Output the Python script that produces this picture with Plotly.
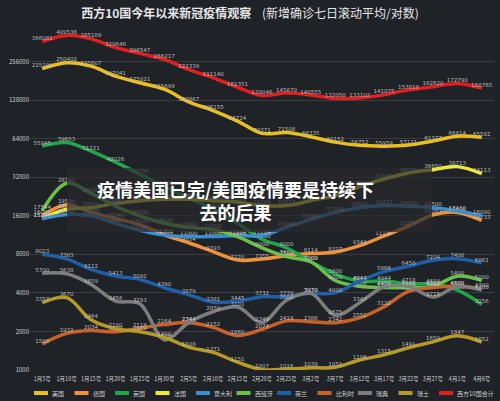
import plotly.graph_objects as go

dates = ["1月5号","1月10号","1月15号","1月20号","1月25号","1月30号","2月5号","2月10号","2月15号","2月20号",
         "2月25号","3月2号","3月7号","3月12号","3月17号","3月22号","3月27号","4月1号","4月6号"]

total = [366081,409536,385189,329646,296547,266217,222339,191140,161351,139046,145670,140555,132050,133102,141075,153818,162620,172790,158765]
usa = [225199,250402,235607,197041,175021,155699,123867,106155,87724,70371,71508,66335,60152,56752,55959,57121,61377,66814,65582]
uk = [55945,59653,51221,42026,33738,27000,22000,18000,14000,10500,9000,7000,5600,4944,4944,4718,4684,4200,3256]
france = [15200,18000,18500,19992,21000,21500,21500,21000,20500,19209,19217,21000,23000,27000,31000,34577,36650,38713,34113]
germany = [16000,19500,17000,15240,13620,11353,9854,8393,7220,7355,7801,8114,8327,9344,11131,13286,16263,17000,14733]
italy = [15174,16400,16000,14000,12300,11300,11000,11000,11224,11224,13000,15000,17000,18500,19217,19000,18500,17430,16000]
spain = [17544,28742,24000,19000,16000,14000,13000,12500,11000,9000,7680,7000,5000,4500,4400,4400,4500,5400,5000]
netherlands = [8023,7383,6112,5413,5092,4390,3879,3381,3445,3732,3739,3970,4000,4944,5866,6450,7204,7400,6861]
sweden = [5700,5638,4659,3456,3293,1720,2344,2850,3101,2349,3500,3970,2675,3347,4468,4500,3715,4489,4200]
belgium = [1598,1932,2034,1989,2118,2264,2344,2152,1860,2074,2418,2386,2342,2551,3122,4103,4400,4500,4300]
swiss = [3357,3670,2464,2100,1989,1800,1508,1371,1151,1007,1016,1039,1051,1196,1315,1491,1659,1847,1652]

series = [
    ("美国", usa, "#e8bf1f"),
    ("德国", germany, "#f0923a"),
    ("英国", uk, "#1fa64a"),
    ("法国", france, "#eeea34"),
    ("意大利", italy, "#3a8fd0"),
    ("西班牙", spain, "#6cc04a"),
    ("荷兰", netherlands, "#1f5fa8"),
    ("比利时", belgium, "#c8622a"),
    ("瑞典", sweden, "#7d7d7d"),
    ("瑞士", swiss, "#b59a24"),
    ("西方10国合计", total, "#e02020"),
]

W, H = 500, 401
fig = go.Figure()
shapes = [dict(type="rect", xref="paper", yref="paper", x0=(67-30)/464, x1=(432-30)/464,
               y0=(370-232)/347, y1=(370-168)/347, fillcolor="rgba(40,40,44,0.72)",
               line=dict(width=0), layer="above")]
annotations = [dict(text="<b>疫情美国已完/美国疫情要是持续下<br>去的后果</b>", xref="paper", yref="paper",
                    x=(235-30)/464, y=(370-200)/347, showarrow=False,
                    font=dict(size=18, color="white", family="Noto Sans CJK SC"), align="center")]

for i, (name, vals, col) in enumerate(series):
    fig.add_trace(go.Scatter(
        x=dates, y=vals, name=name, mode="lines+text", showlegend=False,
        line=dict(color=col, width=3.5, shape="spline", smoothing=1.0),
        text=[str(v) for v in vals], textposition="top center",
        textfont=dict(size=5.5, color="#bdbdbd", family="DejaVu Sans"),
        cliponaxis=False,
    ))
    lx = 34 + i * 40.5
    ly = 393
    shapes.append(dict(type="line", xref="paper", yref="paper",
                       x0=(lx - 30) / 464, x1=(lx + 14 - 30) / 464,
                       y0=(370 - ly) / 347, y1=(370 - ly) / 347,
                       line=dict(color=col, width=4)))
    annotations.append(dict(text=name, xref="paper", yref="paper", x=(lx + 16 - 30) / 464,
                            y=(370 - ly) / 347, xanchor="left", yanchor="middle", showarrow=False,
                            font=dict(size=6, color="#d0d0d0")))

ticks = [1000,2000,4000,8000,16000,32000,64000,128000,256000]
fig.update_layout(
    width=W, height=H,
    margin=dict(l=30, r=6, t=23, b=31),
    paper_bgcolor="#1f2227", plot_bgcolor="rgba(0,0,0,0)",
    font=dict(family="Noto Sans CJK SC", color="#d0d0d0"),
    showlegend=False,
    title=dict(text="<b>西方10国今年以来新冠疫情观察</b>    (新增确诊七日滚动平均/对数)",
               x=0.5, xanchor="center", y=0.965, yanchor="middle",
               font=dict(size=12, color="#e6e6e6")),
    xaxis=dict(type="category", range=[-0.5, 18.5], showgrid=False, zeroline=False,
               tickfont=dict(size=5.5, color="#d0d0d0"), ticks="", tickangle=0, ticklabelstandoff=4),
    yaxis=dict(type="log", range=[3, 5.70927], tickvals=ticks, ticktext=[str(t) for t in ticks],
               gridcolor="rgba(255,255,255,0.12)", zeroline=False,
               tickfont=dict(size=6, color="#d0d0d0")),
    shapes=shapes,
    annotations=annotations,
)
fig.write_html("out.html", config={"displayModeBar": False},
               post_script="document.body.style.margin='0';document.body.style.overflow='hidden';")
